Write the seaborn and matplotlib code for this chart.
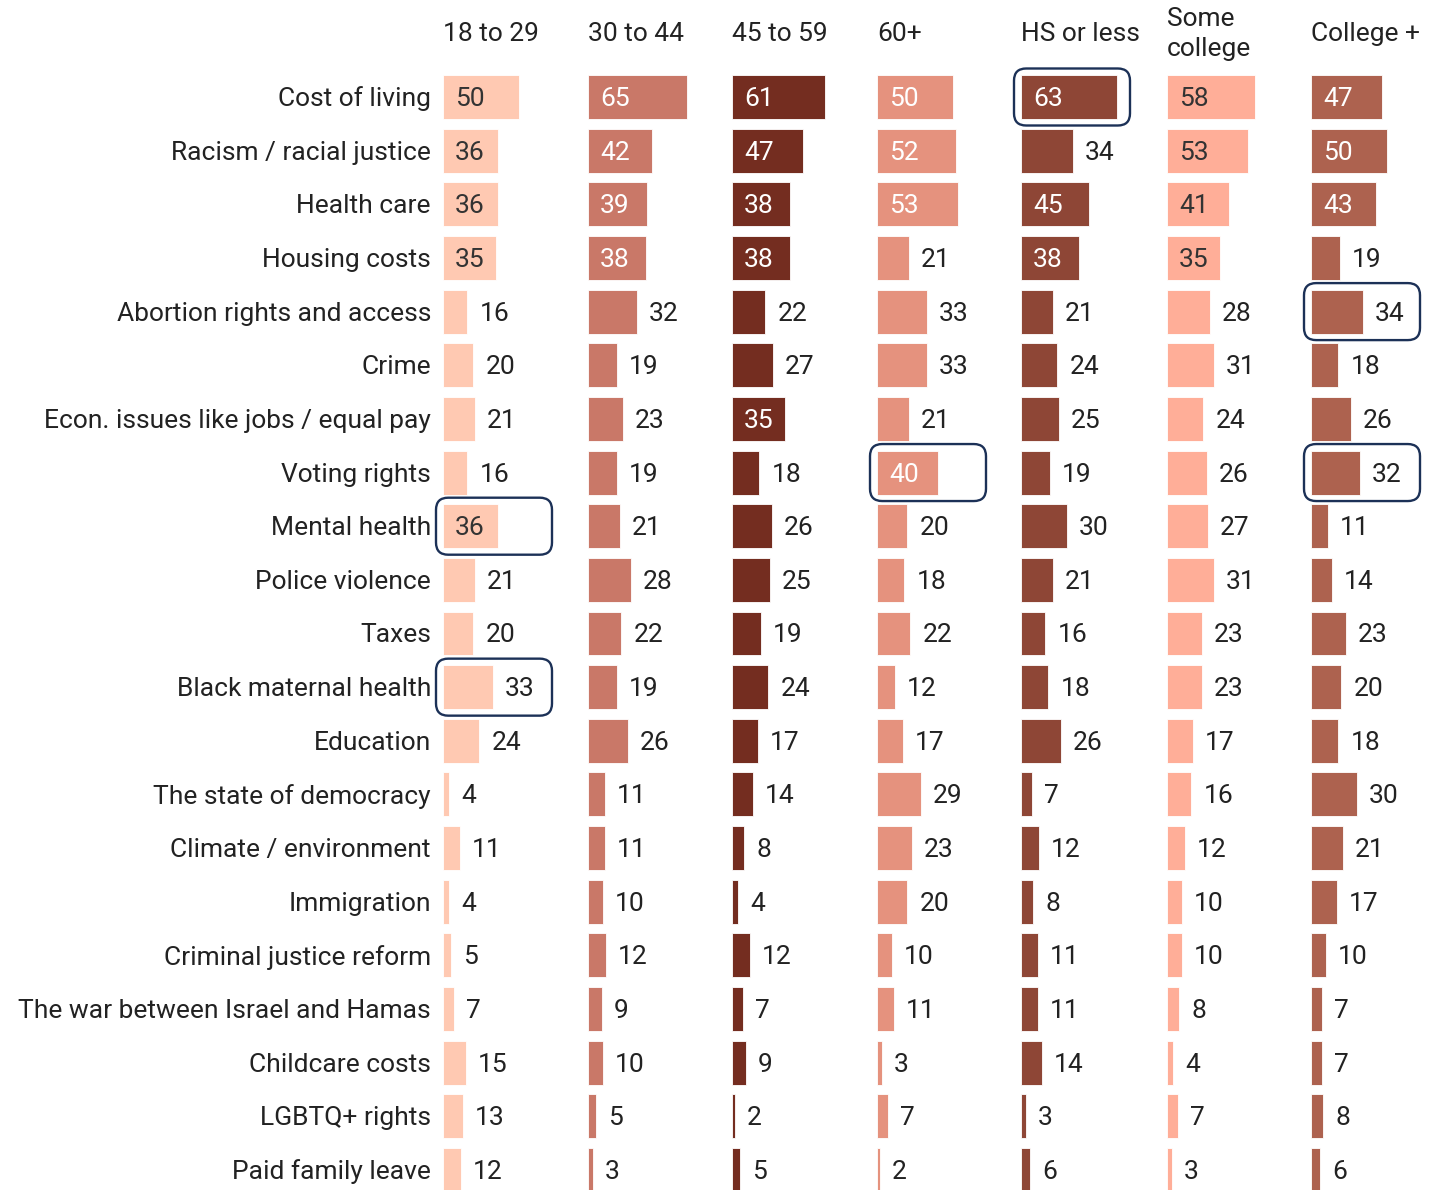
import matplotlib
matplotlib.use('Agg')
import matplotlib.pyplot as plt
import seaborn as sns
import pandas as pd
from matplotlib.patches import FancyBboxPatch

sns.set_theme(style='white')
plt.rcParams['font.family'] = ['Roboto', 'DejaVu Sans']

issues = ['Cost of living', 'Racism / racial justice', 'Health care', 'Housing costs',
          'Abortion rights and access', 'Crime', 'Econ. issues like jobs / equal pay',
          'Voting rights', 'Mental health', 'Police violence', 'Taxes',
          'Black maternal health', 'Education', 'The state of democracy',
          'Climate / environment', 'Immigration', 'Criminal justice reform',
          'The war between Israel and Hamas', 'Childcare costs', 'LGBTQ+ rights',
          'Paid family leave']

groups = ['18 to 29', '30 to 44', '45 to 59', '60+', 'HS or less', 'Some\ncollege', 'College +']

age_18_29 = [50, 36, 36, 35, 16, 20, 21, 16, 36, 21, 20, 33, 24, 4, 11, 4, 5, 7, 15, 13, 12]
age_30_44 = [65, 42, 39, 38, 32, 19, 23, 19, 21, 28, 22, 19, 26, 11, 11, 10, 12, 9, 10, 5, 3]
age_45_59 = [61, 47, 38, 38, 22, 27, 35, 18, 26, 25, 19, 24, 17, 14, 8, 4, 12, 7, 9, 2, 5]
age_60_plus = [50, 52, 53, 21, 33, 33, 21, 40, 20, 18, 22, 12, 17, 29, 23, 20, 10, 11, 3, 7, 2]
hs_or_less = [63, 34, 45, 38, 21, 24, 25, 19, 30, 21, 16, 18, 26, 7, 12, 8, 11, 11, 14, 3, 6]
some_college = [58, 53, 41, 35, 28, 31, 24, 26, 27, 31, 23, 23, 17, 16, 12, 10, 10, 8, 4, 7, 3]
college_plus = [47, 50, 43, 19, 34, 18, 26, 32, 11, 14, 23, 20, 18, 30, 21, 17, 10, 7, 7, 8, 6]

series = [age_18_29, age_30_44, age_45_59, age_60_plus, hs_or_less, some_college, college_plus]
colors = ['#FFC9B2', '#C97868', '#742D20', '#E5927E', '#8E4636', '#FFAE98', '#AD624F']
light = [True, False, False, False, False, True, False]

# highlighted cells: (issue index, group index)
highlights = [(0, 4), (4, 6), (7, 3), (7, 6), (8, 0), (11, 0)]

W, H = 1452, 1190
fig = plt.figure(figsize=(W / 100, H / 100), dpi=100)

px_per_unit = 1.52
row_px = 53.65
col_starts = [443, 588, 732, 877, 1021, 1167, 1311]
xmax = 95
top_px = 97 - row_px / 2
bot_px = 97 + row_px * 20 + row_px / 2
off = 12 / px_per_unit
dy = 2 / row_px  # small nudge so text sits like the reference
fs = 19

for gi, (vals, col) in enumerate(zip(series, colors)):
    left = col_starts[gi] / W
    ax = fig.add_axes([left, 1 - bot_px / H, xmax * px_per_unit / W, (bot_px - top_px) / H])
    df = pd.DataFrame({'issue': issues, 'value': vals})
    sns.barplot(data=df, x='value', y='issue', ax=ax, color=col, width=0.82,
                saturation=1, edgecolor='white', linewidth=0.6, orient='h')
    ax.set_xlim(0, xmax)
    ax.set_ylim(len(issues) - 0.5, -0.5)
    ax.set_axis_off()

    for i, v in enumerate(vals):
        if v >= 35:
            ax.text(off, i + dy, str(v), ha='left', va='center', fontsize=fs,
                    color='#333333' if light[gi] else 'white')
        else:
            ax.text(v + off, i + dy, str(v), ha='left', va='center', fontsize=fs, color='#222222')

    ax.text(0, (34 - 97) / row_px, groups[gi], ha='left', va='center', fontsize=fs,
            color='#222222', linespacing=1.3, clip_on=False)

    if gi == 0:
        for i, name in enumerate(issues):
            ax.text(-off, i + dy, name, ha='right', va='center', fontsize=fs, color='#222222',
                    clip_on=False)

    for (ri, ci) in highlights:
        if ci == gi:
            x0 = -7 / px_per_unit
            w = 116 / px_per_unit
            y0 = ri - 28.5 / row_px
            h = 57 / row_px
            box = FancyBboxPatch((x0, y0), w, h,
                                 boxstyle='round,pad=0,rounding_size=8',
                                 mutation_aspect=px_per_unit / row_px,
                                 fill=False, edgecolor='#1C3157', linewidth=1.7,
                                 clip_on=False, zorder=5)
            ax.add_patch(box)

fig.savefig('out.png', dpi=100)
